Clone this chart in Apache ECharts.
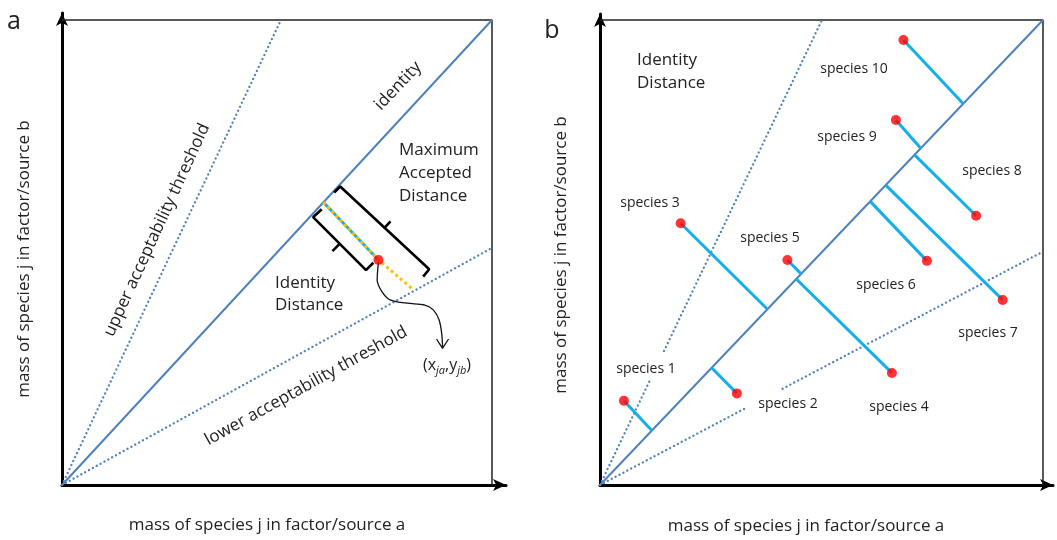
<!DOCTYPE html>
<html>
<head>
<meta charset="utf-8">
<script src="https://cdn.jsdelivr.net/npm/echarts@6/dist/echarts.min.js"></script>
<style>
html,body{margin:0;padding:0;background:#fff;}
#c{width:1057px;height:540px;}
</style>
</head>
<body>
<div id="c"></div>
<script>
// ================= DATA (normalised mass scale 0..10 on both axes) =================
const identityLine = [[0, 0], [10, 10]];
const boxTopRight = [[0, 10], [10, 10], [10, 0]];

// ---- panel a ----
const aUpperThreshold = [[0, 0], [5.09, 10]];
const aLowerThreshold = [[0, 0], [10, 5.1]];
const aPoint = [7.36, 4.84];
const aIdentityFoot = [6.08, 6.08];
const aThresholdFoot = [8.16, 4.21];
const aIdentityBracket = [[6.04, 5.93], [5.84, 5.76], [7.07, 4.62], [7.24, 4.78]];
const aIdentityBracketTick = [[6.46, 5.19], [6.29, 5.03]];
const aMaxBracket = [[6.33, 6.29], [6.47, 6.42], [8.54, 4.64], [8.40, 4.48]];
const aMaxBracketTick = [[7.50, 5.53], [7.64, 5.67]];
const aPointerCurve = [[7.36, 4.80], [7.33, 4.41], [7.44, 4.16], [7.63, 3.98], [8.02, 3.91],
                       [8.44, 3.87], [8.64, 3.76], [8.77, 3.55], [8.83, 3.26], [8.85, 2.97]];
const aPointerHead = [[8.71, 3.14], [8.85, 2.94], [8.99, 3.14]];

// ---- panel b ----
const speciesNames = ['species 1', 'species 2', 'species 3', 'species 4', 'species 5',
                      'species 6', 'species 7', 'species 8', 'species 9', 'species 10'];
const speciesX = [0.54, 3.09, 1.82, 6.59, 4.23, 7.38, 9.09, 8.49, 6.68, 6.85];
const speciesY = [1.81, 1.97, 5.63, 2.41, 4.84, 4.82, 3.98, 5.79, 7.85, 9.57];
const speciesFootOnIdentity = [1.17, 2.52, 3.78, 4.43, 4.54, 6.10, 6.45, 7.10, 7.24, 8.20];
const bUpperThresholdSegments = [[[0, 0], [1.12, 2.24]], [[1.445, 2.88], [5.01, 10]]];
const bLowerThresholdSegments = [[[0, 0], [3.30, 1.66]], [[4.12, 2.07], [10, 5.02]]];

// ================= STYLE / LAYOUT =================
const FONT = '"Open Sans", "Noto Sans", sans-serif';
const TXT = '#222222';
const BLUE = '#4f81bd';
const CYAN = '#14aee8';
const ORANGE = '#ffc000';
const RED = '#ff0000';
const DOTTED = {color: BLUE, width: 2.3, type: [0.1, 4.3], cap: 'round'};

// pixel layout of annotation texts
const speciesLabelPos = [[646, 369], [788, 404], [650, 203], [899, 407], [770, 238],
                         [886, 285], [988, 333], [992, 171], [847, 137], [854, 69]];

const chart = echarts.init(document.getElementById('c'), null, {renderer: 'canvas'});

function axis(grid, max) {
  return {
    type: 'value', gridIndex: grid, min: 0, max: max,
    axisLine: {show: true, onZero: false, symbol: ['none', 'arrow'], symbolSize: [9, 13],
               lineStyle: {color: '#000', width: 3}},
    axisTick: {show: false}, axisLabel: {show: false}, splitLine: {show: false}
  };
}
function seg(grid, data, lineStyle, extra) {
  return Object.assign({
    type: 'line', xAxisIndex: grid, yAxisIndex: grid, data: data, symbol: 'none',
    silent: true, animation: false, lineStyle: lineStyle, z: 3
  }, extra || {});
}

const series = [];
// panel a
series.push(seg(0, boxTopRight, {color: '#222', width: 1.5}));
series.push(seg(0, identityLine, {color: BLUE, width: 2}));
series.push(seg(0, aUpperThreshold, DOTTED));
series.push(seg(0, aLowerThreshold, DOTTED));
series.push(seg(0, [aIdentityFoot, aPoint], {color: CYAN, width: 3}, {z: 4}));
series.push(seg(0, [aIdentityFoot, aPoint, aThresholdFoot], {color: ORANGE, width: 3, type: [3, 3]}, {z: 5}));
series.push(seg(0, aIdentityBracket, {color: '#000', width: 2.6}));
series.push(seg(0, aIdentityBracketTick, {color: '#000', width: 2.6}));
series.push(seg(0, aMaxBracket, {color: '#000', width: 2.6}));
series.push(seg(0, aMaxBracketTick, {color: '#000', width: 2.6}));
series.push(seg(0, aPointerCurve, {color: '#111', width: 1.3}, {smooth: 0.35}));
series.push(seg(0, aPointerHead, {color: '#111', width: 1.3}));
series.push({type: 'scatter', xAxisIndex: 0, yAxisIndex: 0, data: [aPoint], symbolSize: 10,
             itemStyle: {color: RED}, z: 10, silent: true, animation: false});
// panel b
series.push(seg(1, boxTopRight, {color: '#222', width: 1.5}));
series.push(seg(1, identityLine, {color: BLUE, width: 2}));
bUpperThresholdSegments.concat(bLowerThresholdSegments).forEach(s =>
  series.push(seg(1, s, DOTTED)));
speciesX.forEach((x, i) => {
  const f = speciesFootOnIdentity[i];
  series.push(seg(1, [[x, speciesY[i]], [f, f]], {color: CYAN, width: 3}, {z: 5}));
});
series.push({type: 'scatter', xAxisIndex: 1, yAxisIndex: 1,
             data: speciesX.map((x, i) => [x, speciesY[i]]), symbolSize: 10,
             itemStyle: {color: RED}, z: 10, silent: true, animation: false});

function txt(x, y, text, size, opts) {
  opts = opts || {};
  return {
    type: 'text', x: x, y: y, rotation: opts.rot || 0, silent: true, z: 20,
    style: Object.assign({
      text: text, fontSize: size, fontFamily: FONT, fill: TXT,
      align: opts.align || 'center', textAlign: opts.align || 'center',
      verticalAlign: 'middle', textVerticalAlign: 'middle',
      lineHeight: opts.lh || undefined
    }, opts.style || {})
  };
}
const deg = Math.PI / 180;
const XLABEL = 'mass of species j in factor/source a';
const YLABEL = 'mass of species j in factor/source b';
const graphic = [
  txt(14, 22, 'a', 25),
  txt(552, 31, 'b', 25),
  txt(267, 525, XLABEL, 17),
  txt(806, 526, XLABEL, 17),
  txt(24, 259, YLABEL, 17, {rot: 90 * deg}),
  txt(561, 255, YLABEL, 17, {rot: 90 * deg}),
  txt(398, 86, 'identity', 17, {rot: 46.6 * deg}),
  txt(157, 230, 'upper acceptability threshold', 17, {rot: 65.4 * deg}),
  txt(306, 386, 'lower acceptability threshold', 17, {rot: 29 * deg}),
  txt(399, 173.5, 'Maximum\nAccepted\nDistance', 17, {align: 'left', lh: 23}),
  txt(275, 294, 'Identity\nDistance', 17, {align: 'left', lh: 22.5}),
  txt(637, 71.5, 'Identity\nDistance', 17, {align: 'left', lh: 23}),
  txt(447, 365, '{n|(x}{s|ja}{n|,y}{s|jb}{n|)}', 16, {style: {
    rich: {
      n: {fontSize: 16, fontFamily: FONT, fill: TXT, lineHeight: 22},
      s: {fontSize: 11, fontFamily: FONT, fill: TXT, fontStyle: 'italic', lineHeight: 22,
          verticalAlign: 'bottom', padding: [7, 0, 0, 0]}
    }
  }})
];
speciesNames.forEach((n, i) => graphic.push(txt(speciesLabelPos[i][0], speciesLabelPos[i][1], n, 14)));

chart.setOption({
  animation: false,
  backgroundColor: '#fff',
  grid: [
    {left: 62, top: 13, width: 444, height: 472},
    {left: 600, top: 14, width: 453, height: 471}
  ],
  xAxis: [axis(0, 10.326), axis(1, 10.226)],
  yAxis: [axis(0, 10.151), axis(1, 10.129)],
  series: series,
  graphic: graphic
});
</script>
</body>
</html>
